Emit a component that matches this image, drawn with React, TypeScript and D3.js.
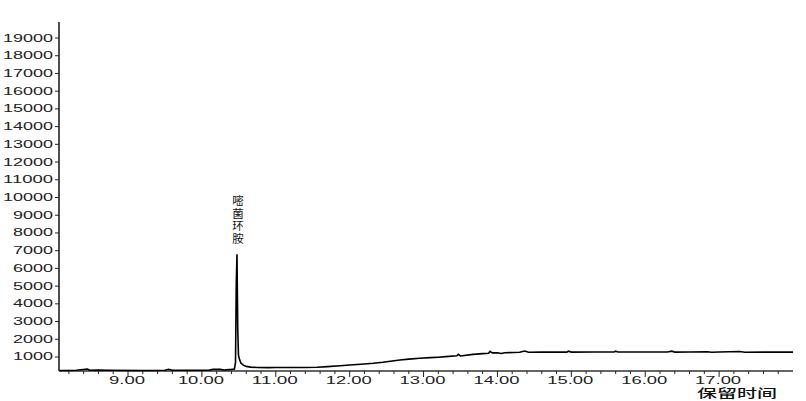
import React from "react";
import * as d3 from "d3";

const times: number[] = [
  8.07, 8.3, 8.45, 8.48, 8.6, 8.75, 9.2, 9.5, 9.55, 9.6, 10.1, 10.15, 10.25, 10.3, 10.4, 10.44,
  10.455, 10.465, 10.475, 10.485, 10.495, 10.51, 10.53, 10.56, 10.6, 10.66, 10.75, 10.9, 11.0,
  11.2, 11.4, 11.56, 11.7, 11.87, 12.0, 12.15, 12.32, 12.45, 12.55, 12.68, 12.8, 12.95, 13.09,
  13.2, 13.3, 13.45, 13.47, 13.5, 13.67, 13.8, 13.88, 13.9, 13.93, 14.0, 14.05, 14.1, 14.3,
  14.37, 14.42, 14.6, 14.94, 14.96, 15.0, 15.3, 15.58, 15.6, 15.63, 16.0, 16.3, 16.36, 16.4,
  16.6, 16.84, 16.9, 17.0, 17.28, 17.35, 17.6, 18.0,
];
const signal: number[] = [
  240, 250, 320, 250, 260, 250, 240, 250, 310, 250, 260, 300, 300, 270, 300, 320,
  700, 5100, 6800, 2600, 1100, 850, 650, 540, 470, 430, 410, 400, 410,
  405, 410, 425, 455, 505, 550, 590, 645, 700, 760, 830, 880, 930, 965,
  990, 1020, 1070, 1150, 1060, 1150, 1190, 1210, 1320, 1230, 1240, 1200, 1240, 1265,
  1340, 1270, 1275, 1275, 1330, 1275, 1278, 1280, 1330, 1280, 1280, 1280, 1330, 1275,
  1280, 1300, 1270, 1280, 1310, 1270, 1275, 1275,
];
const yTickValues: number[] = [1000, 2000, 3000, 4000, 5000, 6000, 7000, 8000, 9000, 10000, 11000, 12000, 13000, 14000, 15000, 16000, 17000, 18000, 19000];
const xMajorTicks: number[] = [9, 10, 11, 12, 13, 14, 15, 16, 17];
const peakTime = 10.475;
const peakValue = 6800;
const peakName = "嘧菌环胺";
const xTitle = "保留时间";

export default function App() {
  const W = 806, H = 401;
  const x = d3.scaleLinear().domain([8.066, 18.0]).range([59, 793]);
  const y = d3.scaleLinear().domain([210, 19903]).range([371, 22]);
  const data = times.map((t, i) => [t, signal[i]] as [number, number]);
  const line = d3.line<[number, number]>().x(d => x(d[0])).y(d => y(d[1]));
  const minor = d3.range(8.2, 17.81, 0.2).filter(t => Math.abs(t - Math.round(t)) > 0.01);
  const x0 = x.range()[0], x1 = x.range()[1];
  const yb = y.range()[0], yt = y.range()[1];
  const fontTick = "'Liberation Sans', Arial, sans-serif";
  const fontCJK = "'Noto Sans CJK SC', sans-serif";
  const px = x(peakTime);
  return (
    <svg width={W} height={H} style={{ position: "absolute", left: 0, top: 0, background: "#fff" }}>
      <rect width={W} height={H} fill="#fff" />
      {/* y axis */}
      <line x1={x0} x2={x0} y1={yt} y2={yb} stroke="#222" strokeWidth={1.6} />
      {yTickValues.map(v => (
        <g key={v}>
          <line x1={x0 - 4} x2={x0} y1={y(v)} y2={y(v)} stroke="#222" strokeWidth={1} />
          <text x={53} y={y(v) + 3.5} textAnchor="end" fontFamily={fontTick} fontSize={10}
            fill="#222" textLength={String(v).length * 10} lengthAdjust="spacingAndGlyphs">{v}</text>
        </g>
      ))}
      {/* x axis */}
      <line x1={x0} x2={x1} y1={yb} y2={yb} stroke="#333" strokeWidth={1.3} />
      {minor.map(t => (
        <line key={t} x1={x(t)} x2={x(t)} y1={yb} y2={yb + 3} stroke="#222" strokeWidth={1} />
      ))}
      {xMajorTicks.map(t => {
        const s = t.toFixed(2);
        return (
          <g key={t}>
            <line x1={x(t)} x2={x(t)} y1={yb} y2={yb + 6} stroke="#222" strokeWidth={1} />
            <text x={x(t) - 1} y={383.5} textAnchor="middle" fontFamily={fontTick} fontSize={10}
              fill="#222" textLength={(s.length - 1) * 10 + 6} lengthAdjust="spacingAndGlyphs">{s}</text>
          </g>
        );
      })}
      <text x={697} y={398} fontFamily={fontCJK} fontSize={12} fontWeight={500} fill="#111"
        textLength={80} lengthAdjust="spacingAndGlyphs">{xTitle}</text>
      {/* signal */}
      <path d={line(data) || ""} fill="none" stroke="#000" strokeWidth={1.6} strokeLinejoin="miter" />
      {/* peak label, vertical */}
      <text x={px + 1} y={y(peakValue) - 59} fontFamily={fontCJK} fontSize={11.5} fill="#111"
        letterSpacing={1} style={{ writingMode: "vertical-rl" }}>{peakName}</text>
    </svg>
  );
}
